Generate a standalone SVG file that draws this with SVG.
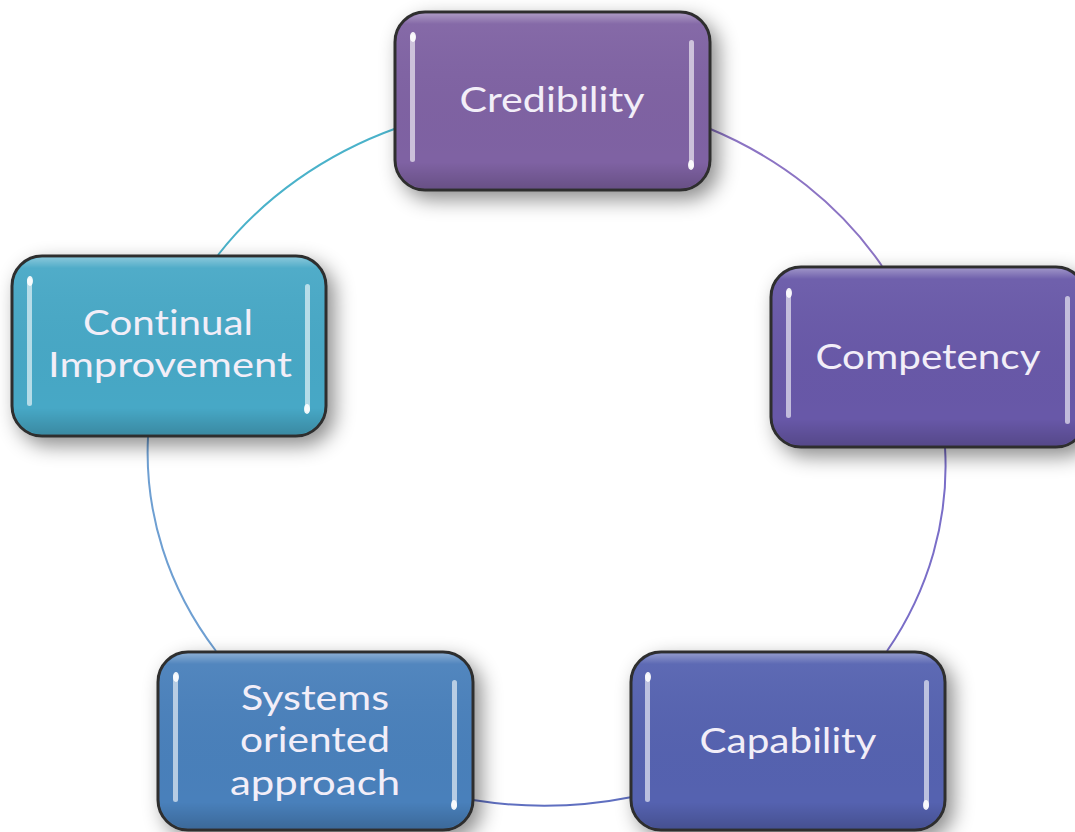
<svg xmlns="http://www.w3.org/2000/svg" width="1075" height="832" viewBox="0 0 1075 832">
<defs>
<style>
.box{stroke:#2e2e2e;stroke-width:3}
.lbl{font-family:Lato,"Open Sans","Liberation Sans",sans-serif;font-size:35px;fill:#f2eef8;text-anchor:middle;font-variant-ligatures:none;font-feature-settings:"liga" 0}
.bar{fill:#ffffff;opacity:0.6}
.tip{fill:#ffffff;opacity:0.9}
.conn{fill:none;stroke-width:2}
</style>
<filter id="sh" x="-20%" y="-20%" width="150%" height="150%">
<feDropShadow dx="7" dy="8" stdDeviation="10" flood-color="#000" flood-opacity="0.45"/>
</filter>
<linearGradient id="gl" x1="0" y1="0" x2="0" y2="1">
<stop offset="0" stop-color="#fff" stop-opacity="0.35"/>
<stop offset="0.06" stop-color="#fff" stop-opacity="0.05"/>
<stop offset="0.85" stop-color="#000" stop-opacity="0"/>
<stop offset="1" stop-color="#000" stop-opacity="0.18"/>
</linearGradient>
</defs>
<rect width="1075" height="832" fill="#ffffff"/>
<g id="connectors">
<path class="conn" stroke="#4ab2ca" d="M218,255 A400,355 0 0 1 397,128"/>
<path class="conn" stroke="#8c74c4" d="M708,128 A400,355 0 0 1 882,266"/>
<path class="conn" stroke="#7a6ec8" d="M945,447 A400,355 0 0 1 887,651"/>
<path class="conn" stroke="#5f6fc0" d="M632,797 A400,355 0 0 1 473,800"/>
<path class="conn" stroke="#6e9fd2" d="M216,651 A400,355 0 0 1 148,437"/>
</g>
<g id="credibility">
<rect class="box" x="395" y="12" width="315" height="178" rx="30" fill="#7f62a3" filter="url(#sh)"/>
<rect x="396.5" y="13.5" width="312" height="175" rx="29" fill="url(#gl)"/>
<rect class="bar" x="410" y="34" width="5" height="128" rx="2.5"/>
<ellipse class="tip" cx="413" cy="37" rx="3" ry="5"/>
<rect class="bar" x="689" y="40" width="5" height="128" rx="2.5"/>
<ellipse class="tip" cx="691" cy="165" rx="3" ry="5"/>
<text class="lbl" x="552" y="112" textLength="185" lengthAdjust="spacingAndGlyphs">Credibility</text>
</g>
<g id="competency">
<rect class="box" x="771" y="267" width="315" height="180" rx="30" fill="#6859a8" filter="url(#sh)"/>
<rect x="772.5" y="268.5" width="312" height="177" rx="29" fill="url(#gl)"/>
<rect class="bar" x="786" y="290" width="5" height="128" rx="2.5"/>
<ellipse class="tip" cx="789" cy="293" rx="3" ry="5"/>
<rect class="bar" x="1065" y="296" width="5" height="128" rx="2.5"/>
<text class="lbl" x="928" y="369" textLength="225" lengthAdjust="spacingAndGlyphs">Competency</text>
</g>
<g id="capability">
<rect class="box" x="631" y="652" width="314" height="178" rx="30" fill="#5462b0" filter="url(#sh)"/>
<rect x="632.5" y="653.5" width="311" height="175" rx="29" fill="url(#gl)"/>
<rect class="bar" x="645" y="674" width="5" height="128" rx="2.5"/>
<ellipse class="tip" cx="648" cy="677" rx="3" ry="5"/>
<rect class="bar" x="924" y="680" width="5" height="128" rx="2.5"/>
<ellipse class="tip" cx="926" cy="805" rx="3" ry="5"/>
<text class="lbl" x="788" y="753" textLength="177" lengthAdjust="spacingAndGlyphs">Capability</text>
</g>
<g id="systems">
<rect class="box" x="158" y="652" width="315" height="178" rx="30" fill="#4a80bb" filter="url(#sh)"/>
<rect x="159.5" y="653.5" width="312" height="175" rx="29" fill="url(#gl)"/>
<rect class="bar" x="173" y="674" width="5" height="128" rx="2.5"/>
<ellipse class="tip" cx="176" cy="677" rx="3" ry="5"/>
<rect class="bar" x="452" y="680" width="5" height="128" rx="2.5"/>
<ellipse class="tip" cx="454" cy="805" rx="3" ry="5"/>
<text class="lbl" x="315" y="710" textLength="148" lengthAdjust="spacingAndGlyphs">Systems</text>
<text class="lbl" x="315" y="752" textLength="150" lengthAdjust="spacingAndGlyphs">oriented</text>
<text class="lbl" x="315" y="795" textLength="170" lengthAdjust="spacingAndGlyphs">approach</text>
</g>
<g id="continual">
<rect class="box" x="12" y="256" width="314" height="180" rx="30" fill="#46a8c6" filter="url(#sh)"/>
<rect x="13.5" y="257.5" width="311" height="177" rx="29" fill="url(#gl)"/>
<rect class="bar" x="27" y="278" width="5" height="128" rx="2.5"/>
<ellipse class="tip" cx="30" cy="281" rx="3" ry="5"/>
<rect class="bar" x="305" y="284" width="5" height="128" rx="2.5"/>
<ellipse class="tip" cx="307" cy="409" rx="3" ry="5"/>
<text class="lbl" x="168" y="335" textLength="170" lengthAdjust="spacingAndGlyphs">Continual</text>
<text class="lbl" x="170" y="377" textLength="244" lengthAdjust="spacingAndGlyphs">Improvement</text>
</g>
</svg>
